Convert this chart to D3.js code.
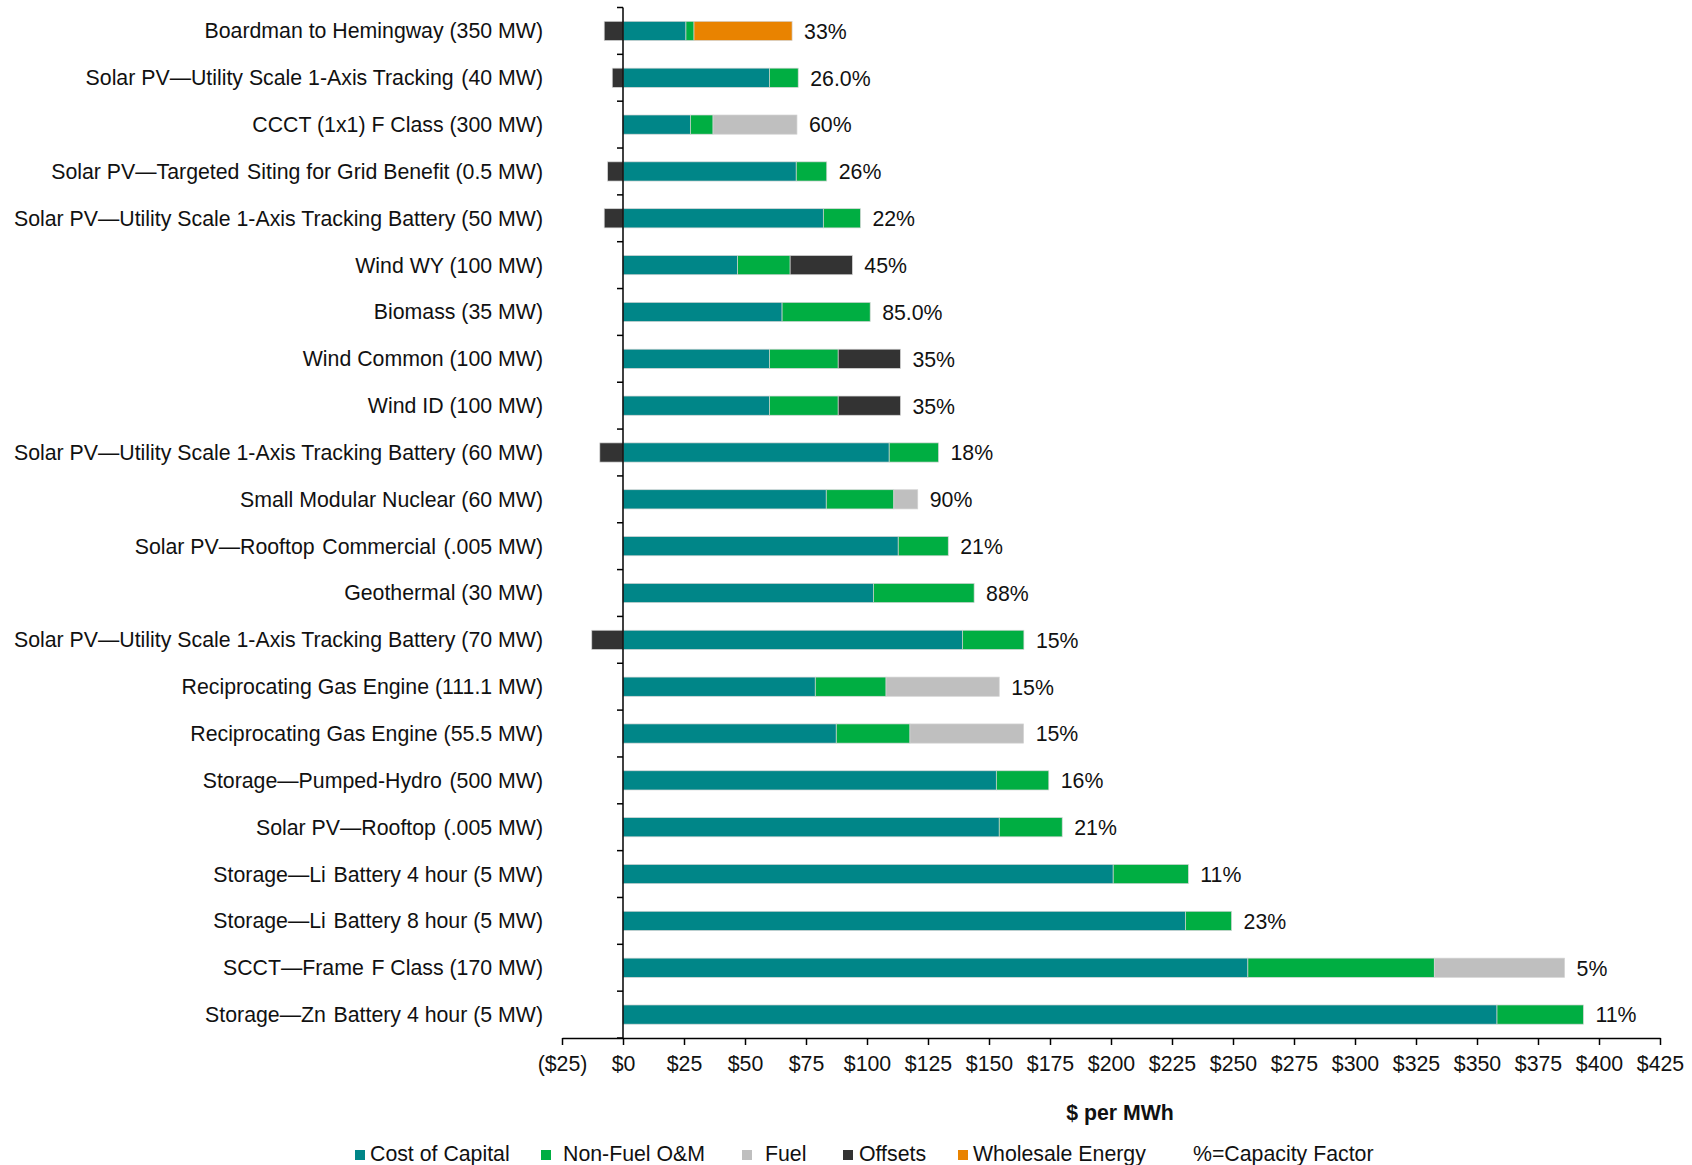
<!DOCTYPE html>
<html>
<head>
<meta charset="utf-8">
<script src="https://cdn.jsdelivr.net/npm/d3@7"></script>
<style>
  body { margin: 0; background: #fff; }
  svg { display: block; font-family: "Liberation Sans", Arial, sans-serif; }
  .lbl { white-space: pre; }
</style>
</head>
<body>
<svg id="chart" width="1692" height="1165"></svg>
<script>
const categories = [
  "Boardman to Hemingway (350 MW)",
  "Solar PV\u2014Utility Scale 1-Axis Tracking\u200A (40 MW)",
  "CCCT (1x1) F Class (300 MW)",
  "Solar PV\u2014Targeted\u200A Siting for Grid Benefit (0.5 MW)",
  "Solar PV\u2014Utility Scale 1-Axis Tracking Battery (50 MW)",
  "Wind WY (100 MW)",
  "Biomass (35 MW)",
  "Wind Common (100 MW)",
  "Wind ID (100 MW)",
  "Solar PV\u2014Utility Scale 1-Axis Tracking Battery (60 MW)",
  "Small Modular Nuclear (60 MW)",
  "Solar PV\u2014Rooftop\u200A Commercial\u200A (.005 MW)",
  "Geothermal (30 MW)",
  "Solar PV\u2014Utility Scale 1-Axis Tracking Battery (70 MW)",
  "Reciprocating Gas Engine (111.1 MW)",
  "Reciprocating Gas Engine (55.5 MW)",
  "Storage\u2014Pumped-Hydro\u200A (500 MW)",
  "Solar PV\u2014Rooftop\u200A (.005 MW)",
  "Storage\u2014Li\u200A Battery 4 hour (5 MW)",
  "Storage\u2014Li\u200A Battery 8 hour (5 MW)",
  "SCCT\u2014Frame\u200A F Class (170 MW)",
  "Storage\u2014Zn\u200A Battery 4 hour (5 MW)"
];

const costOfCapital = [25.8, 60.0, 27.6, 71.0, 82.1, 46.9, 65.2, 60.0, 60.0, 109.1, 83.3, 112.8, 102.6, 139.1, 78.8, 87.4, 153.0, 154.2, 200.9, 230.5, 256.1, 358.2];
const nonFuelOM     = [3.3, 11.8, 9.3, 12.5, 15.2, 21.6, 36.1, 28.2, 28.2, 20.2, 27.7, 20.5, 41.3, 25.2, 29.0, 30.2, 21.5, 25.8, 30.8, 18.9, 76.4, 35.4];
const fuel          = [0, 0, 34.4, 0, 0, 0, 0, 0, 0, 0, 9.8, 0, 0, 0, 46.4, 46.6, 0, 0, 0, 0, 53.4, 0];
const offsets       = [-7.7, -4.4, 0, -6.3, -7.7, 25.5, 0, 25.5, 25.5, -9.5, 0, 0, 0, -12.8, 0, 0, 0, 0, 0, 0, 0, 0];
const wholesale     = [40.2, 0, 0, 0, 0, 0, 0, 0, 0, 0, 0, 0, 0, 0, 0, 0, 0, 0, 0, 0, 0, 0];
const capacityFactor = ["33%", "26.0%", "60%", "26%", "22%", "45%", "85.0%", "35%", "35%", "18%", "90%", "21%", "88%", "15%", "15%", "15%", "16%", "21%", "11%", "23%", "5%", "11%"];

const seriesNames = ["Cost of Capital", "Non-Fuel O&M", "Fuel", "Offsets", "Wholesale Energy"];
const seriesKeys = ["capital", "om", "fuel", "offsets", "wholesale"];
const seriesColors = ["#008688", "#00ae42", "#bfbfbf", "#333333", "#e98300"];
const xTicks = d3.range(-25, 426, 25);

const rows = categories.map((c, i) => ({
  name: c,
  capital: costOfCapital[i],
  om: nonFuelOM[i],
  fuel: fuel[i],
  offsets: offsets[i],
  wholesale: wholesale[i],
  cf: capacityFactor[i]
}));

const svg = d3.select("#chart");
const textColor = "#111";
const fontSize = 21.3;

const x = d3.scaleLinear().domain([-25, 425]).range([562, 1660]);
const y = d3.scaleBand().domain(categories).range([7.5, 1038]).paddingInner(0.59).paddingOuter(0.295);
const yStep = y.step();

const stack = d3.stack().keys(seriesKeys).offset(d3.stackOffsetDiverging);
const layers = stack(rows);

// bars
const gBars = svg.append("g");
layers.forEach((layer, k) => {
  gBars.append("g")
    .attr("fill", seriesColors[k])
    .selectAll("rect")
    .data(layer.filter((d) => d[1] - d[0] !== 0))
    .join("rect")
    .attr("x", (d) => x(Math.min(d[0], d[1])))
    .attr("width", (d) => Math.abs(x(d[1]) - x(d[0])))
    .attr("y", (d) => y(d.data.name))
    .attr("height", y.bandwidth())
    .attr("stroke", "#d4d4d4")
    .attr("stroke-width", 0.7);
});

// y axis (category ticks at band edges)
const yAxisG = svg.append("g").attr("stroke", "#000");
yAxisG.append("line")
  .attr("x1", x(0)).attr("x2", x(0))
  .attr("y1", y.range()[0]).attr("y2", y.range()[1])
  .attr("stroke-width", 1.5);
yAxisG.selectAll("line.tick")
  .data(d3.range(categories.length + 1))
  .join("line")
  .attr("class", "tick")
  .attr("x1", x(0) - 6).attr("x2", x(0))
  .attr("y1", (i) => y.range()[0] + i * yStep)
  .attr("y2", (i) => y.range()[0] + i * yStep)
  .attr("stroke-width", 1.5);

// category labels
svg.append("g")
  .selectAll("text")
  .data(categories)
  .join("text")
  .attr("class", "lbl")
  .attr("x", 543)
  .attr("y", (d) => y(d) + y.bandwidth() / 2)
  .attr("dy", "0.35em")
  .attr("text-anchor", "end")
  .attr("font-size", fontSize)
  .attr("fill", textColor)
  .text((d) => d);

// capacity factor labels, just past the end of the positive stack
const positiveTotal = (d) => seriesKeys.reduce((s, k) => s + Math.max(0, d[k]), 0);
svg.append("g")
  .selectAll("text")
  .data(rows)
  .join("text")
  .attr("x", (d) => x(positiveTotal(d)) + 12)
  .attr("y", (d) => y(d.name) + y.bandwidth() / 2)
  .attr("dy", "0.37em")
  .attr("font-size", fontSize)
  .attr("fill", textColor)
  .text((d) => d.cf);

// x axis
const xAxis = d3.axisBottom(x)
  .tickValues(xTicks)
  .tickSize(7)
  .tickSizeOuter(0)
  .tickPadding(11)
  .tickFormat((d) => (d < 0 ? `($${-d})` : `$${d}`));

const xg = svg.append("g")
  .attr("transform", `translate(0,${y.range()[1]})`)
  .call(xAxis);
xg.select(".domain").attr("stroke", "#000").attr("stroke-width", 1.5);
xg.selectAll(".tick line").attr("stroke", "#000").attr("stroke-width", 1.5);
xg.selectAll(".tick text")
  .attr("font-size", fontSize)
  .attr("font-family", "'Liberation Sans', Arial, sans-serif")
  .attr("fill", textColor);

// axis title
svg.append("text")
  .attr("x", 1120)
  .attr("y", 1120)
  .attr("text-anchor", "middle")
  .attr("font-size", fontSize)
  .attr("font-weight", "bold")
  .attr("fill", textColor)
  .text("$ per MWh");

// legend
const legendSquareX = [355, 541, 742, 843, 958];
const legendTextX = [370, 563, 765, 859, 973];
const legend = svg.append("g");
seriesNames.forEach((name, i) => {
  legend.append("rect")
    .attr("x", legendSquareX[i])
    .attr("y", 1150)
    .attr("width", 10)
    .attr("height", 10)
    .attr("fill", seriesColors[i]);
  legend.append("text")
    .attr("x", legendTextX[i])
    .attr("y", 1161)
    .attr("font-size", fontSize)
    .attr("fill", textColor)
    .text(name);
});
legend.append("text")
  .attr("x", 1193)
  .attr("y", 1161)
  .attr("font-size", fontSize)
  .attr("fill", textColor)
  .text("%=Capacity Factor");
</script>
</body>
</html>
